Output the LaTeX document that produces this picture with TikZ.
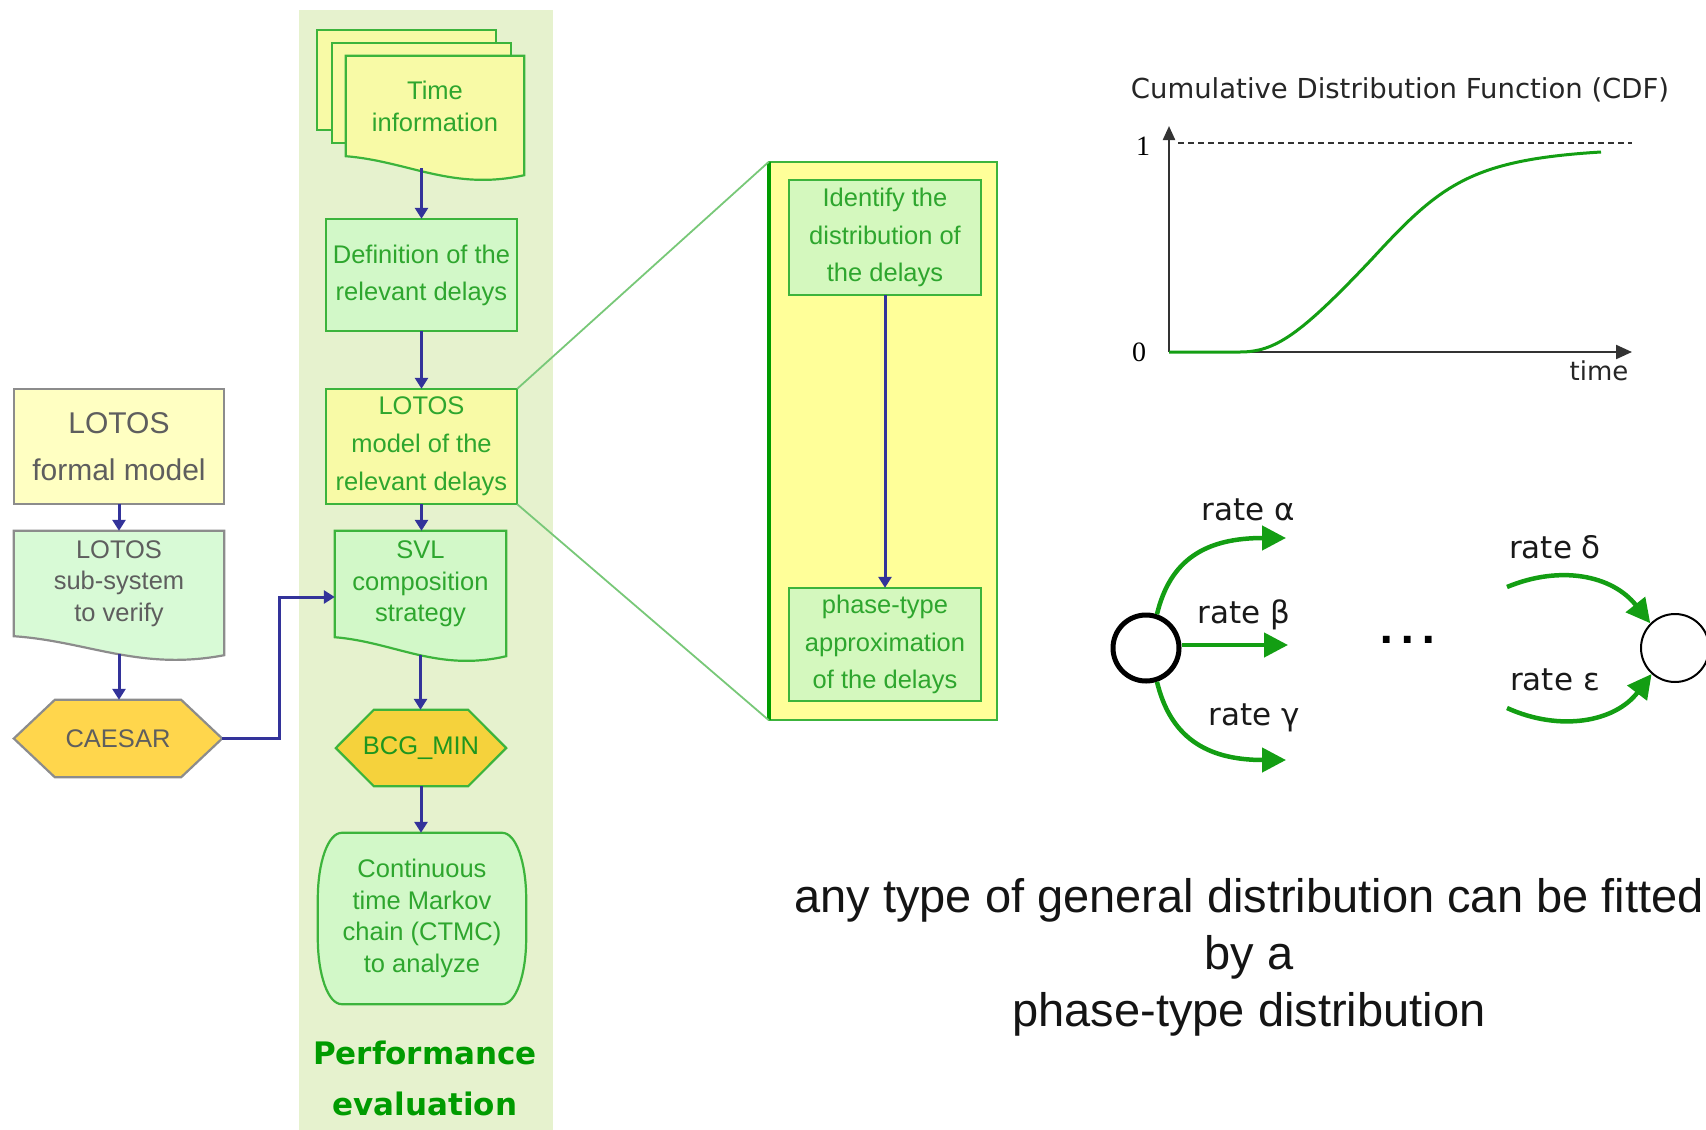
\documentclass[tikz,border=0pt]{standalone}
\usepackage{fontspec}
\setmainfont{Liberation Sans}
\newfontfamily\dejavu{DejaVu Sans}
\newfontfamily\serifnum{Liberation Serif}
\usetikzlibrary{arrows.meta,calc}

\definecolor{bandfill}{HTML}{E6F2CE}
\definecolor{docyellow}{HTML}{F8FAA6}
\definecolor{paleyellow}{HTML}{FFFFC2}
\definecolor{panelyellow}{HTML}{FFFF99}
\definecolor{boxgreen}{HTML}{D2F8C8}
\definecolor{subgreen}{HTML}{D8FAD6}
\definecolor{stepgreen}{HTML}{D4F8BE}
\definecolor{edgegreen}{HTML}{3CB43C}
\definecolor{textgreen}{HTML}{2EA62E}
\definecolor{bcgtext}{HTML}{1E961E}
\definecolor{titlegreen}{HTML}{009B00}
\definecolor{zoomgreen}{HTML}{78C878}
\definecolor{greyedge}{HTML}{8C8C8C}
\definecolor{greytext}{HTML}{5E5E5E}
\definecolor{goldA}{HTML}{FFD64C}
\definecolor{goldB}{HTML}{F5D23C}
\definecolor{flowblue}{HTML}{33339A}
\definecolor{curvegreen}{HTML}{139E13}
\definecolor{axisgrey}{HTML}{333333}

\pgfdeclarelayer{band}
\pgfdeclarelayer{shapes}
\pgfsetlayers{band,shapes,main}

\newcommand\fsz[2]{\fontsize{#1}{#2}\selectfont}

% document symbol with a wavy lower edge, drawn round a named node
\newcommand\docshape[2]{%
  \filldraw[#2] (#1.north west) -- (#1.north east) -- ($(#1.south east)+(0,19)$)
    .. controls ($(#1.south west)!0.6!(#1.south east)+(0,35)$)
           and ($(#1.south west)!0.35!(#1.south east)+(0,5)$) .. (#1.south west) -- cycle;}

% flat hexagon round a named node, #2 = horizontal chamfer
\newcommand\hexshape[3]{%
  \filldraw[#3] (#1.west) -- ($(#1.north west)+(#2,0)$) -- ($(#1.north east)+(-#2,0)$)
    -- (#1.east) -- ($(#1.south east)+(-#2,0)$) -- ($(#1.south west)+(#2,0)$) -- cycle;}

\tikzset{
  lbl/.style={inner sep=0pt, align=center, text=textgreen},
  greenedge/.style={draw=edgegreen, line width=2.2pt},
  greyline/.style={draw=greyedge, line width=2.2pt},
  flow/.style={draw=flowblue, line width=3pt, -{Triangle[length=11pt,width=13pt]}},
  ratearrow/.style={draw=curvegreen, line width=4.5pt, -{Triangle[length=24pt,width=24pt]}},
  ratelbl/.style={font=\dejavu\fsz{31}{31}, inner sep=0pt, anchor=base, text=black!90},
}

\begin{document}
\begin{tikzpicture}[x=1pt,y=-1pt]
\useasboundingbox (0,0) rectangle (1706,1130);
\clip (0,0) rectangle (1706,1130);

% ---------- performance evaluation column ----------
\begin{pgfonlayer}{band}
  \fill[bandfill] (299,10) rectangle (553,1130);
\end{pgfonlayer}

\node[lbl, minimum width=178pt, minimum height=100pt, font=\fsz{25.5}{32}] (time) at (435,106) {Time\\information};
\node[lbl, minimum width=191pt, minimum height=112pt, font=\fsz{25.5}{37}] (def) at (421.5,275) {Definition of the\\relevant delays};
\node[lbl, minimum width=191pt, minimum height=115pt, font=\fsz{25.5}{38}] (lmodel) at (421.5,446.5) {LOTOS\\model of the\\relevant delays};
\node[lbl, minimum width=171pt, minimum height=106pt, font=\fsz{25.5}{31.5}] (svl) at (420.5,584) {SVL\\composition\\strategy};
\node[lbl, text=bcgtext, minimum width=170pt, minimum height=76pt, font=\fsz{25.5}{30}] (bcg) at (421,748) {BCG\_MIN};
\node[lbl, minimum width=208pt, minimum height=171pt, font=\fsz{25.5}{31.7}] (ctmc) at (422,918.5) {Continuous\\time Markov\\chain (CTMC)\\to analyze};
\node[lbl, text=titlegreen, font=\dejavu\bfseries\fsz{31}{51}] (perf) at (425,1078) {Performance\\evaluation};

% ---------- functional verification column ----------
\node[lbl, text=greytext, minimum width=210pt, minimum height=115pt, font=\fsz{30}{47}] (lformal) at (119,446.5) {LOTOS\\formal model};
\node[lbl, text=greytext, minimum width=210pt, minimum height=105pt, font=\fsz{25.5}{31.5}] (lsub) at (119,583.5) {LOTOS\\sub-system\\to verify};
\node[lbl, text=greytext, minimum width=208pt, minimum height=77pt, font=\fsz{25.5}{30}] (caesar) at (118,738.5) {CAESAR};

% ---------- detail panel ----------
\node[inner sep=0pt, minimum width=228pt, minimum height=558pt] (panel) at (883,441) {};
\node[lbl, minimum width=192pt, minimum height=115pt, font=\fsz{25.5}{37.5}] (ident) at (885,237.5) {Identify the\\distribution of\\the delays};
\node[lbl, minimum width=192pt, minimum height=113pt, font=\fsz{25.5}{37.5}] (phase) at (885,644.5) {phase-type\\approximation\\of the delays};

\begin{pgfonlayer}{shapes}
  \filldraw[fill=docyellow, greenedge] (317,30) rectangle (496,130);
  \filldraw[fill=docyellow, greenedge] (332,43) rectangle (511,143);
  \docshape{time}{fill=docyellow, greenedge}
  \filldraw[fill=boxgreen, greenedge] (def.north west) rectangle (def.south east);
  \filldraw[fill=docyellow, greenedge] (lmodel.north west) rectangle (lmodel.south east);
  \docshape{svl}{fill=boxgreen, greenedge}
  \hexshape{bcg}{38}{fill=goldB, greenedge}
  \filldraw[fill=boxgreen, greenedge]
    ($(ctmc.north west)+(24,0)$) -- ($(ctmc.north east)+(-24,0)$)
    .. controls ($(ctmc.north east)+(-10,0)$) and ($(ctmc.north east)+(0,30)$) .. ($(ctmc.north east)+(0,66)$)
    -- ($(ctmc.south east)+(0,-66)$)
    .. controls ($(ctmc.south east)+(0,-30)$) and ($(ctmc.south east)+(-10,0)$) .. ($(ctmc.south east)+(-24,0)$)
    -- ($(ctmc.south west)+(24,0)$)
    .. controls ($(ctmc.south west)+(10,0)$) and ($(ctmc.south west)+(0,-30)$) .. ($(ctmc.south west)+(0,-66)$)
    -- ($(ctmc.north west)+(0,66)$)
    .. controls ($(ctmc.north west)+(0,30)$) and ($(ctmc.north west)+(10,0)$) .. ($(ctmc.north west)+(24,0)$)
    -- cycle;
  \filldraw[fill=paleyellow, greyline] (lformal.north west) rectangle (lformal.south east);
  \docshape{lsub}{fill=subgreen, greyline}
  \hexshape{caesar}{41}{fill=goldA, greyline}
  \filldraw[fill=panelyellow, greenedge] (panel.north west) rectangle (panel.south east);
  \draw[titlegreen, line width=3.5pt] (panel.north west) -- (panel.south west);
  \filldraw[fill=stepgreen, greenedge] (ident.north west) rectangle (ident.south east);
  \filldraw[fill=stepgreen, greenedge] (phase.north west) rectangle (phase.south east);
\end{pgfonlayer}

% zoom lines from the LOTOS model box to the panel
\draw[zoomgreen, line width=1.8pt] (lmodel.north east) -- (panel.north west);
\draw[zoomgreen, line width=1.8pt] (lmodel.south east) -- (panel.south west);

% flow connectors
\draw[flow] ($(time.south -| def.north)+(0,12)$) -- (def.north);
\draw[flow] (def.south) -- (lmodel.north);
\draw[flow] (lmodel.south) -- (lmodel.south |- svl.north);
\draw[flow] ($(svl.south)+(0,18)$) -- (svl.south |- bcg.north);
\draw[flow] (bcg.south) -- (bcg.south |- ctmc.north);
\draw[flow] (lformal.south) -- (lsub.north);
\draw[flow] ($(lsub.south)+(0,18)$) -- (lsub.south |- caesar.north);
\coordinate (bend) at (279,597);
\draw[flow] (caesar.east) -| (bend) -- (bend -| svl.west);
\draw[flow] (ident.south) -- (phase.north);

% ---------- cumulative distribution function ----------
\node[font=\dejavu\fsz{27.5}{30}, inner sep=0pt, text=black!85] (cdftitle) at (1400,90) {Cumulative Distribution Function (CDF)};
\coordinate (org) at (1169,352);
\coordinate (ytop) at (1169,126);
\coordinate (xend) at (1632,352);
\draw[axisgrey, line width=2.2pt, -{Triangle[length=14pt,width=12pt]}] (org) -- (ytop);
\draw[axisgrey, line width=2.2pt, -{Triangle[length=16pt,width=14pt]}] (org) -- (xend);
\draw[axisgrey, line width=1.5pt, dash pattern=on 6pt off 4pt] (1178,143) -- (1632,143);
\node[font=\serifnum\fsz{28}{30}, inner sep=0pt] (one) at (1143,146) {1};
\node[font=\serifnum\fsz{28}{30}, inner sep=0pt] (zero) at (1139,352) {0};
\node[font=\dejavu\fsz{26}{28}, inner sep=0pt, anchor=base, text=black!85] (timelbl) at (1599,380) {time};
\draw[curvegreen, line width=3pt] (org) -- (1240,352)
  .. controls (1275,352) and (1300,335) .. (1371,260)
  .. controls (1440,185) and (1470,160) .. (1601,152);

% ---------- phase-type transitions ----------
\node[circle, draw=black, line width=5pt, minimum size=66pt, inner sep=0pt] (s1) at (1146,648) {};
\node[circle, draw=black, line width=2pt, minimum size=68pt, inner sep=0pt] (s2) at (1675,648) {};
\coordinate (atip) at (1286,538);
\coordinate (btip) at (1288,645);
\coordinate (ctip) at (1286,760);
\coordinate (dstart) at (1507,587);
\coordinate (estart) at (1507,708);
\draw[ratearrow] (s1.72) .. controls (1170,560) and (1205,538) .. (atip);
\draw[ratearrow] (s1.east |- btip) -- (btip);
\draw[ratearrow] (s1.-72) .. controls (1170,736) and (1205,760) .. (ctip);
\draw[ratearrow] (dstart) .. controls (1560,565) and (1612,575) .. (s2.135);
\draw[ratearrow] (estart) .. controls (1560,732) and (1615,722) .. (s2.-132);
\node[ratelbl] (la) at (1248,520) {rate α};
\node[ratelbl] (lb) at (1244,623) {rate β};
\node[ratelbl] (lc) at (1254,725) {rate γ};
\node[ratelbl] (ld) at (1555,558) {rate δ};
\node[ratelbl] (le) at (1555,690) {rate ε};
\node[font=\dejavu\bfseries\fsz{38}{38}, inner sep=0pt, anchor=base] (dots) at (1408,643) {.\kern6.5pt.\kern6.5pt.};

% ---------- statement ----------
\node[font=\fsz{47}{57}, align=center, inner sep=0pt, text=black!92] (fit) at (1249,957) {any type of general distribution can be fitted\\by a\\phase-type distribution};
\end{tikzpicture}
\end{document}
